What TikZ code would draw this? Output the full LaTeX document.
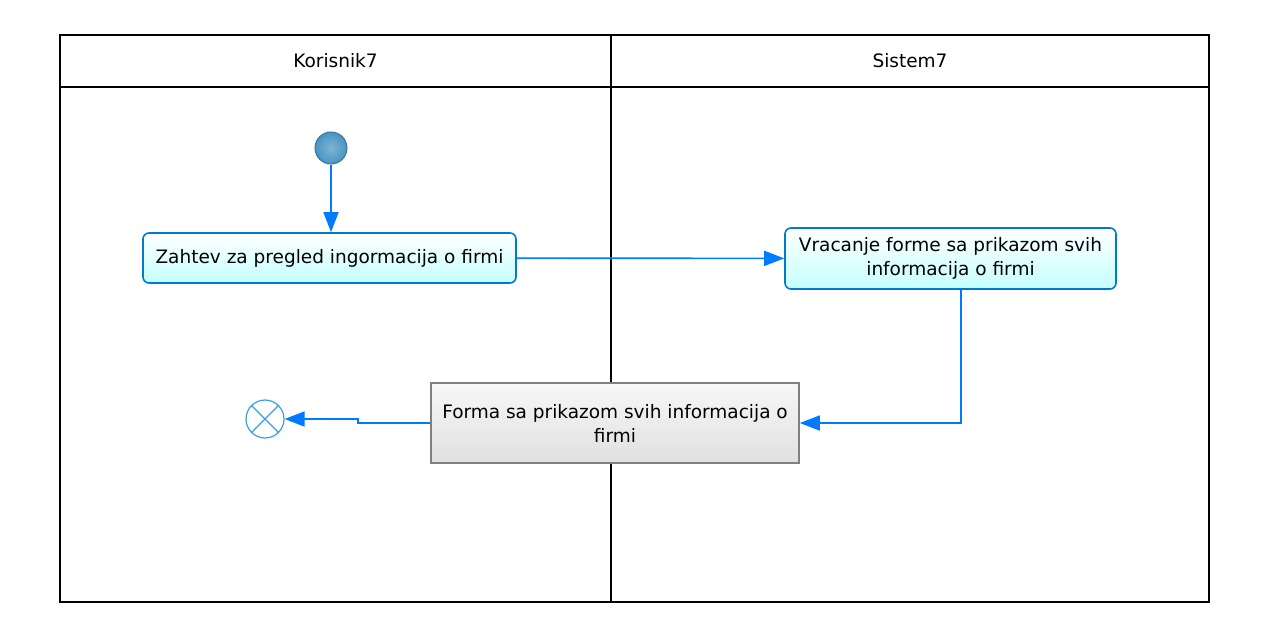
\documentclass[tikz,border=0pt]{standalone}
\usepackage{fontspec}
\setmainfont{DejaVu Sans}
\usetikzlibrary{arrows.meta, positioning}

\definecolor{flowblue}{RGB}{0, 122, 255}
\definecolor{actedge}{RGB}{0, 122, 204}
\definecolor{actfill}{RGB}{196, 255, 255}
\definecolor{formedge}{RGB}{128, 128, 128}
\definecolor{startblue}{RGB}{72, 148, 194}
\definecolor{endblue}{RGB}{60, 160, 220}

\tikzset{
  lane/.style={line width=2pt, draw=black},
  action/.style={draw=actedge, line width=1.6pt, rounded corners=6pt, top color=white, bottom color=actfill, align=center, inner sep=4pt},
  formbox/.style={draw=formedge, line width=1.6pt, top color=black!3, bottom color=black!12, align=center, inner sep=4pt},
  flow/.style={draw=flowblue, line width=1.6pt, -{Triangle[length=20pt, width=15pt]}},
}

\begin{document}
\begin{tikzpicture}[x=1pt, y=-1pt, font=\fontsize{18.5}{24}\selectfont]
  \useasboundingbox (0,0) rectangle (1264,630);

  % Swimlanes
  \draw[lane] (60,35) rectangle (1209,602);
  \draw[lane] (60,87) -- (1209,87);
  \draw[lane] (611,35) -- (611,602);
  \node (korisnik) at (335.5,61) {Korisnik7};
  \node (sistem) at (910,61) {Sistem7};

  % Activities
  \node[circle, draw=startblue!80!black, line width=1pt, inner color=startblue!70!white, outer color=startblue, minimum size=32pt, inner sep=0pt] (start) at (331,148) {};
  \node[action, minimum width=373pt, minimum height=50pt] (zahtev) at (329.5,258) {Zahtev za pregled ingormacija o firmi};
  \node[action, minimum width=331pt, minimum height=61pt] (vracanje) at (950.5,258.5) {Vracanje forme sa prikazom svih\\informacija o firmi};
  \node[formbox, minimum width=368pt, minimum height=80pt] (forma) at (615,423) {Forma sa prikazom svih informacija o\\firmi};
  \node[circle, draw=endblue, line width=1.2pt, fill=white, minimum size=38pt, inner sep=0pt] (kraj) at (265,419) {};
  \draw[endblue, line width=1.2pt] (kraj.north east) -- (kraj.south west) (kraj.north west) -- (kraj.south east);

  % Flows
  \coordinate (k1) at (961,425);
  \coordinate (k2) at (358,423);
  \draw[flow] (start) -- (start |- zahtev.north);
  \draw[flow] (zahtev) -- (vracanje);
  \draw[flow] (vracanje.south -| k1) |- (forma.east);
  \draw[flow] (forma.west) -- (k2) |- (kraj.east);
\end{tikzpicture}
\end{document}
